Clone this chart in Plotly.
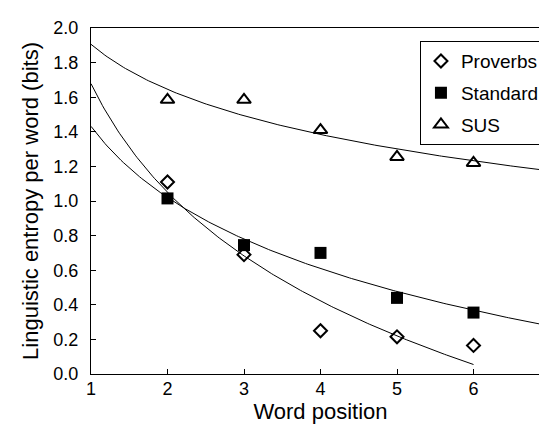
import numpy as np
import plotly.graph_objects as go

word_pos = [2, 3, 4, 5, 6]
proverbs = [1.11, 0.69, 0.25, 0.215, 0.165]
standard = [1.015, 0.745, 0.70, 0.44, 0.355]
sus = [1.585, 1.585, 1.41, 1.255, 1.22]

font_family = "Liberation Sans, Arial, sans-serif"

def log_fit(x, y, x0, x1):
    b, a = np.polyfit(np.log(x), y, 1)
    xs = np.linspace(x0, x1, 200)
    return xs, a + b * np.log(xs)

fig = go.Figure()

for y, xe in [(proverbs, 6), (standard, 7), (sus, 7)]:
    xs, ys = log_fit(word_pos, y, 1, xe)
    fig.add_trace(go.Scatter(x=xs, y=ys, mode="lines", line=dict(color="black", width=1),
                             showlegend=False, hoverinfo="skip"))

fig.add_trace(go.Scatter(x=word_pos, y=proverbs, mode="markers", name="Proverbs",
                         legendgroup="a",
                         marker=dict(symbol="diamond-open", size=10, color="black",
                                     line=dict(width=2, color="black"))))
fig.add_trace(go.Scatter(x=word_pos, y=standard, mode="markers", name="Standard",
                         legendgroup="b",
                         marker=dict(symbol="square", size=12, color="black",
                                     line=dict(width=0))))
fig.add_trace(go.Scatter(x=word_pos, y=sus, mode="markers", name="SUS",
                         legendgroup="c",
                         marker=dict(symbol="triangle-up-open", size=12, color="black",
                                     line=dict(width=2, color="black"))))

fig.update_layout(
    width=547, height=425,
    margin=dict(l=83, r=5, t=20, b=59, autoexpand=False),
    paper_bgcolor="white", plot_bgcolor="white",
    font=dict(family=font_family, size=18, color="black"),
    showlegend=True,
    legend=dict(x=0.989, y=0.962, xanchor="right", yanchor="top",
                bordercolor="black", borderwidth=1, bgcolor="white",
                font=dict(size=19), tracegroupgap=4, itemwidth=30),
    xaxis=dict(range=[1, 7], dtick=1, tick0=1, ticks="inside", ticklen=5,
               tickcolor="black", showline=True, linecolor="black", linewidth=1,
               mirror=True, showgrid=False, zeroline=False, automargin=False,
               ticklabelstandoff=-2,
               title=dict(text="Word position", standoff=0)),
    yaxis=dict(range=[0, 2], dtick=0.2, tick0=0, tickformat=".1f", ticks="inside",
               ticklen=5, tickcolor="black", showline=True, linecolor="black",
               linewidth=1, mirror=True, showgrid=False, zeroline=False, automargin=False,
               ticklabelstandoff=8,
               title=dict(text="Linguistic entropy per word (bits)", standoff=8)),
)

fig.write_html("out.html")
